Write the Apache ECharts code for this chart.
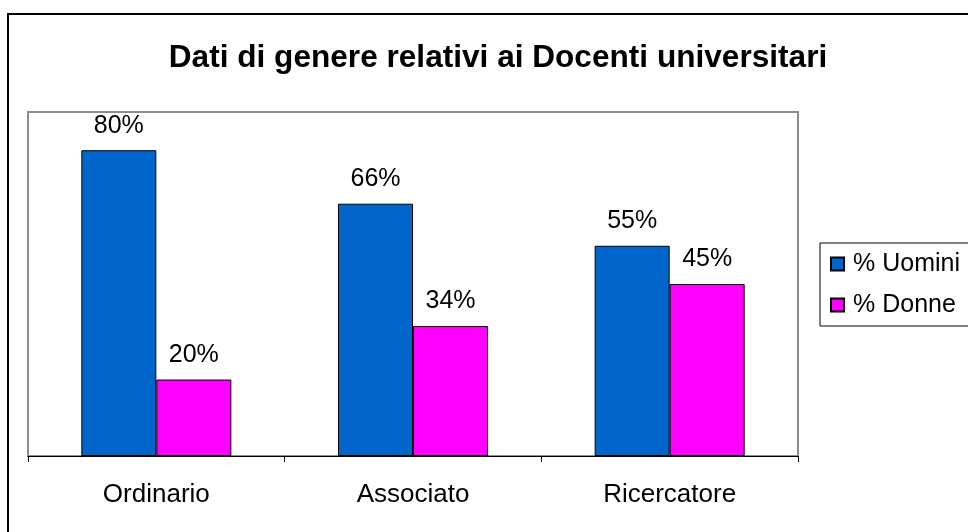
<!DOCTYPE html>
<html>
<head>
<meta charset="utf-8">
<script src="https://cdn.jsdelivr.net/npm/echarts@6/dist/echarts.min.js"></script>
<style>
  html, body { margin: 0; padding: 0; background: #fff; }
  #chart { width: 968px; height: 532px; }
</style>
</head>
<body>
<div id="chart"></div>
<script>
// Category labels and percentage values per role
var categories = ['Ordinario', 'Associato', 'Ricercatore'];
var uomini = [80, 66, 55];
var donne = [20, 34, 45];
var seriesNames = ['% Uomini', '% Donne'];

var FONT = '"Liberation Sans", Arial, sans-serif';

var chart = echarts.init(document.getElementById('chart'), null, { renderer: 'canvas' });

function labelFor() {
  return {
    show: true,
    position: 'top',
    distance: 12,
    color: '#000',
    fontFamily: FONT,
    fontSize: 25,
    formatter: function (p) { return p.value + '%'; }
  };
}

chart.setOption({
  animation: false,
  backgroundColor: '#fff',
  title: {
    text: 'Dati di genere relativi ai Docenti universitari',
    left: 493,
    textAlign: 'center',
    top: 37,
    textStyle: { fontFamily: FONT, fontSize: 31.6, fontWeight: 'bold', color: '#000' }
  },
  graphic: [{
    type: 'rect',
    shape: { x: 8, y: 14, width: 1100, height: 700 },
    style: { fill: 'none', stroke: '#000', lineWidth: 2 },
    z: 100
  }],
  legend: {
    orient: 'vertical',
    left: 820,
    top: 243,
    data: seriesNames,
    icon: 'rect',
    itemWidth: 13,
    itemHeight: 13,
    itemGap: 11,
    padding: [6, 20, 6, 10],
    borderColor: '#000',
    borderWidth: 1,
    textStyle: { fontFamily: FONT, fontSize: 25, color: '#000', lineHeight: 30, padding: [0, 0, 0, 4] }
  },
  grid: {
    left: 28, right: 170, top: 112, bottom: 76,
    show: true,
    borderColor: '#8c8c8c',
    borderWidth: 2,
    backgroundColor: '#fff'
  },
  xAxis: {
    type: 'category',
    data: categories,
    axisLine: { show: true, lineStyle: { color: '#000', width: 1 } },
    axisTick: { show: true, length: 6, interval: 0, lineStyle: { color: '#000' } },
    axisLabel: { margin: 26, fontFamily: FONT, fontSize: 26, color: '#000' }
  },
  yAxis: {
    type: 'value',
    min: 0,
    max: 90,
    show: false,
    splitLine: { show: false }
  },
  series: [
    {
      name: seriesNames[0],
      type: 'bar',
      data: uomini,
      barWidth: 75,
      barGap: '0%',
      itemStyle: { color: '#0066CC', borderColor: '#000', borderWidth: 1 },
      label: labelFor()
    },
    {
      name: seriesNames[1],
      type: 'bar',
      data: donne,
      barWidth: 75,
      itemStyle: { color: '#FF00FF', borderColor: '#000', borderWidth: 1 },
      label: labelFor()
    }
  ]
});
</script>
</body>
</html>
